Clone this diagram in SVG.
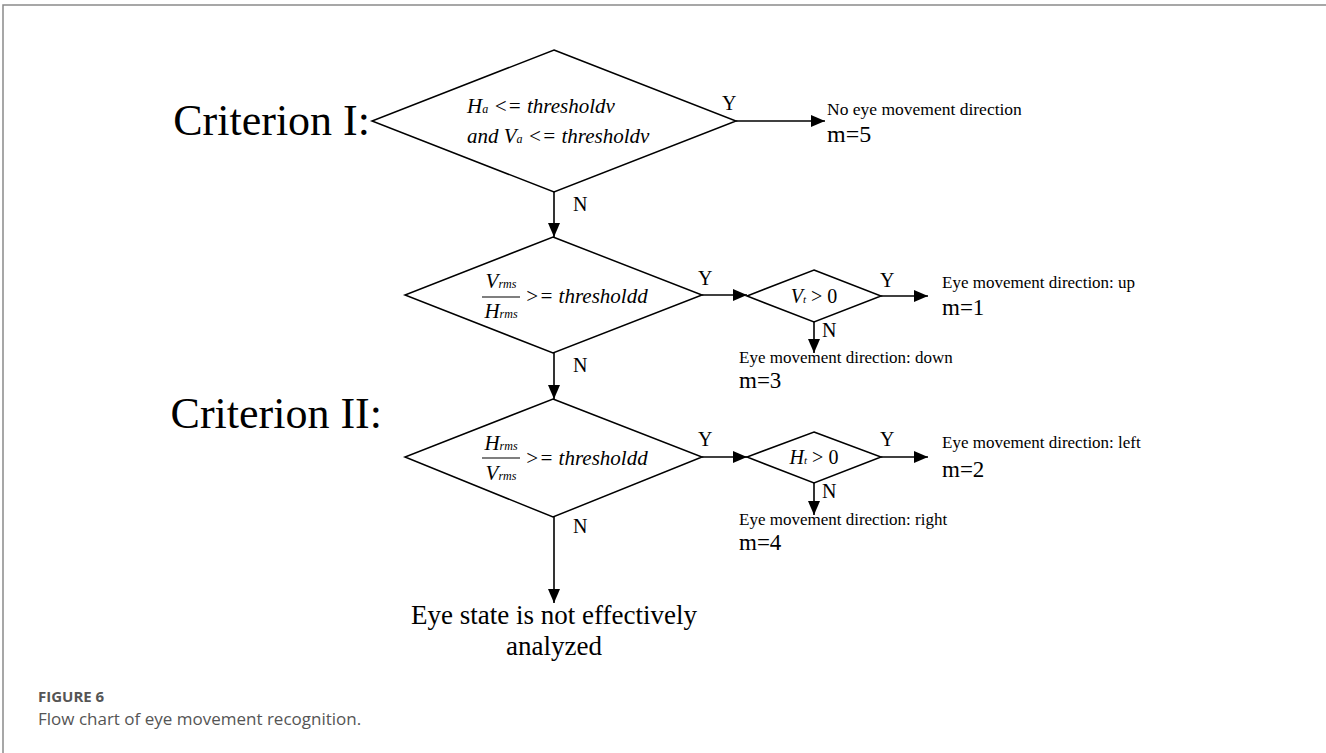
<svg xmlns="http://www.w3.org/2000/svg" width="1326" height="753" viewBox="0 0 1326 753">
<style>
.t{font-family:"Liberation Serif","Times New Roman",serif;fill:#000}
.i{font-style:italic}
.d{fill:#fff;stroke:#000;stroke-width:1.5}
.c{stroke:#000;stroke-width:1.6;fill:none}
.cap{font-family:"Open Sans","Noto Sans",sans-serif;fill:#555}
</style>
<defs>
<marker id="ah" viewBox="0 0 14 12" refX="14" refY="6" markerWidth="14" markerHeight="12" markerUnits="userSpaceOnUse" orient="auto">
<path d="M0,0 L14,6 L0,12 z" fill="#000"/>
</marker>
</defs>
<rect width="1326" height="753" fill="#fff"/>
<path d="M3,753 V5 H1326" fill="none" stroke="#8a8a8a" stroke-width="1.5"/>

<g id="labels">
<text class="t" x="370" y="135" font-size="44" text-anchor="end">Criterion I:</text>
<text class="t" x="382" y="428" font-size="44" text-anchor="end">Criterion II:</text>
</g>

<g id="connectors">
<line class="c" x1="736" y1="121" x2="825" y2="121" marker-end="url(#ah)"/>
<line class="c" x1="554" y1="192" x2="554" y2="237" marker-end="url(#ah)"/>
<line class="c" x1="702" y1="295" x2="747" y2="295" marker-end="url(#ah)"/>
<line class="c" x1="881" y1="296" x2="928" y2="296" marker-end="url(#ah)"/>
<line class="c" x1="814" y1="322" x2="814" y2="353" marker-end="url(#ah)"/>
<line class="c" x1="554" y1="353" x2="554" y2="399" marker-end="url(#ah)"/>
<line class="c" x1="702" y1="457" x2="747" y2="457" marker-end="url(#ah)"/>
<line class="c" x1="881" y1="457" x2="928" y2="457" marker-end="url(#ah)"/>
<line class="c" x1="814" y1="483" x2="814" y2="515" marker-end="url(#ah)"/>
<line class="c" x1="554" y1="517" x2="554" y2="603" marker-end="url(#ah)"/>
<g class="t" font-size="20">
<text x="722" y="110">Y</text>
<text x="573" y="211">N</text>
<text x="698" y="285">Y</text>
<text x="880" y="287">Y</text>
<text x="822" y="337">N</text>
<text x="573" y="372">N</text>
<text x="698" y="446">Y</text>
<text x="880" y="446">Y</text>
<text x="822" y="498">N</text>
<text x="573" y="533">N</text>
</g>
</g>

<g id="decision1">
<polygon class="d" points="554,50 736,121 554,192 372,121"/>
<text class="t i" x="467" y="113" font-size="21">H<tspan font-size="12">a</tspan> &lt;= thresholdv</text>
<text class="t i" x="467" y="143" font-size="21">and  V<tspan font-size="12">a</tspan> &lt;= thresholdv</text>
</g>

<g id="decision2">
<polygon class="d" points="553,237 702,295 553,353 405,295"/>
<text class="t i" x="501" y="288" font-size="21" text-anchor="middle">V<tspan font-size="12">rms</tspan></text>
<line x1="482" y1="297" x2="520" y2="297" stroke="#000" stroke-width="1.2"/>
<text class="t i" x="501" y="318" font-size="21" text-anchor="middle">H<tspan font-size="12">rms</tspan></text>
<text class="t i" x="525" y="303" font-size="21">&gt;= thresholdd</text>
</g>

<g id="decision3">
<polygon class="d" points="553,399 702,457 553,517 405,457"/>
<text class="t i" x="501" y="450" font-size="21" text-anchor="middle">H<tspan font-size="12">rms</tspan></text>
<line x1="482" y1="458" x2="520" y2="458" stroke="#000" stroke-width="1.2"/>
<text class="t i" x="501" y="480" font-size="21" text-anchor="middle">V<tspan font-size="12">rms</tspan></text>
<text class="t i" x="525" y="465" font-size="21">&gt;= thresholdd</text>
</g>

<g id="decisionVt">
<polygon class="d" points="814,270 881,296 814,322 747,296"/>
<text class="t" x="814" y="303" font-size="20" text-anchor="middle"><tspan class="i">V<tspan font-size="11">t</tspan></tspan> &gt; 0</text>
</g>

<g id="decisionHt">
<polygon class="d" points="814,432 881,457 814,483 747,457"/>
<text class="t" x="814" y="464" font-size="20" text-anchor="middle"><tspan class="i">H<tspan font-size="11">t</tspan></tspan> &gt; 0</text>
</g>

<g id="result5">
<text class="t" x="827" y="115" font-size="17.5">No eye movement direction</text>
<text class="t" x="827" y="142" font-size="24">m=5</text>
</g>
<g id="result1">
<text class="t" x="942" y="288" font-size="17">Eye movement direction: up</text>
<text class="t" x="942" y="315" font-size="23">m=1</text>
</g>
<g id="result3">
<text class="t" x="739" y="363" font-size="17">Eye movement direction: down</text>
<text class="t" x="739" y="388" font-size="23">m=3</text>
</g>
<g id="result2">
<text class="t" x="942" y="448" font-size="17">Eye movement direction: left</text>
<text class="t" x="942" y="477" font-size="23">m=2</text>
</g>
<g id="result4">
<text class="t" x="739" y="525" font-size="17">Eye movement direction: right</text>
<text class="t" x="739" y="550" font-size="23">m=4</text>
</g>
<g id="resultNone">
<text class="t" x="554" y="624" font-size="27" text-anchor="middle">Eye state is not effectively</text>
<text class="t" x="554" y="655" font-size="27" text-anchor="middle">analyzed</text>
</g>

<g id="caption">
<text class="cap" x="38" y="702" font-size="15" font-weight="bold">FIGURE 6</text>
<text class="cap" x="38" y="725" font-size="17">Flow chart of eye movement recognition.</text>
</g>
</svg>
